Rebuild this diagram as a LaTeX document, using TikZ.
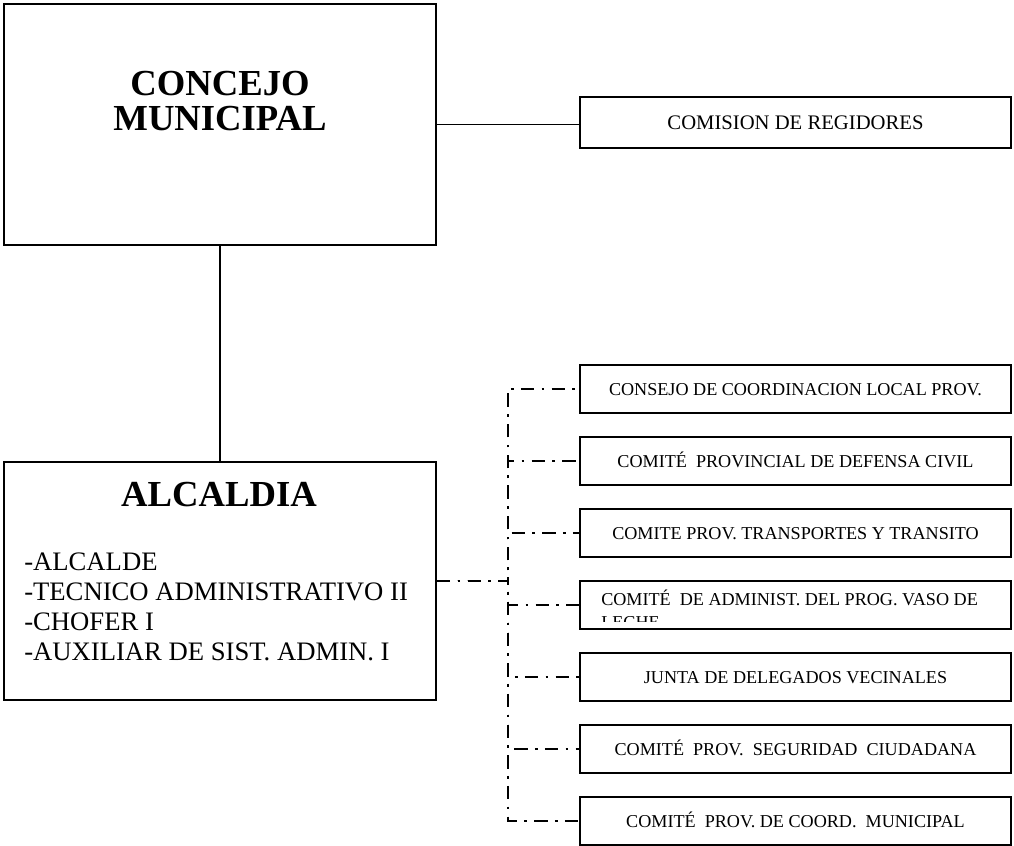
\documentclass[tikz,border=0pt]{standalone}
\usepackage{fontspec}
\setmainfont{Liberation Serif}

\begin{document}
\begin{tikzpicture}[x=0.75pt,y=-0.75pt,
	box/.style={draw,line width=1.4pt,inner sep=0pt},
	unit/.style={box,minimum width=323.25pt,minimum height=36pt,text height=9pt,text depth=0pt,font=\fontsize{13.6}{15.6}\selectfont},
	wire/.style={line width=1.1pt},
	link/.style={line width=1.8pt,dash pattern=on 10pt off 5.5pt on 2pt off 5.5pt}]
	\useasboundingbox (0,0) rectangle (1014,846);

	\node[box,minimum width=324pt,minimum height=180.75pt](concejo) at (220,124.5) {};
	\node[anchor=north,align=center,inner sep=0pt,font=\fontsize{27.5}{26.25}\selectfont\bfseries](concejot) at (220,71) {CONCEJO\\MUNICIPAL};

	\node[box,minimum width=323.25pt,minimum height=38.25pt,text height=10pt,text depth=0pt,font=\fontsize{15.5}{18}\selectfont](comision) at (795.5,122.5) {COMISION DE REGIDORES};

	\node[box,minimum width=324pt,minimum height=178.5pt](alc) at (220,581) {};
	\node[anchor=north,inner sep=0pt,font=\fontsize{27.5}{30}\selectfont\bfseries](alct) at (219,482) {ALCALDIA};
	\node[anchor=north west,align=left,inner sep=0pt,font=\fontsize{20}{22.5}\selectfont](cargos) at (24,553) {-ALCALDE\\-TECNICO ADMINISTRATIVO II\\-CHOFER I\\-AUXILIAR DE SIST. ADMIN. I};

	\node[unit](c1) at (795.5,389) {CONSEJO DE COORDINACION LOCAL PROV.};
	\node[unit](c2) at (795.5,461) {COMITÉ\ \ PROVINCIAL DE DEFENSA CIVIL};
	\node[unit](c3) at (795.5,533) {COMITE PROV. TRANSPORTES Y TRANSITO};
	\node[unit](c4) at (795.5,605) {};
	\node[unit](c5) at (795.5,677) {JUNTA DE DELEGADOS VECINALES};
	\node[unit](c6) at (795.5,749) {COMITÉ\ \ PROV.\ \ SEGURIDAD\ \ CIUDADANA};
	\node[unit](c7) at (795.5,821) {COMITÉ\ \ PROV. DE COORD.\ \ MUNICIPAL};

	\begin{scope}
		\clip ([yshift=6.5pt]c4.south west) rectangle (c4.north east);
		\node[anchor=base west,inner sep=0pt,font=\fontsize{13.6}{15.6}\selectfont](c4t) at (601,605) {\vtop{\baselineskip=17.5pt\hbox{COMITÉ\ \ DE ADMINIST. DEL PROG. VASO DE}\hbox{LECHE}}};
	\end{scope}

	\coordinate (trunk) at (508,581);

	\draw[wire] (concejo) -- (alc);
	\draw[wire] (concejo.east) -- (concejo.east -| comision.west);
	\foreach \i in {1,...,7}
		\draw[link] (alc.east) -- (trunk) |- (c\i.west);
\end{tikzpicture}
\end{document}
